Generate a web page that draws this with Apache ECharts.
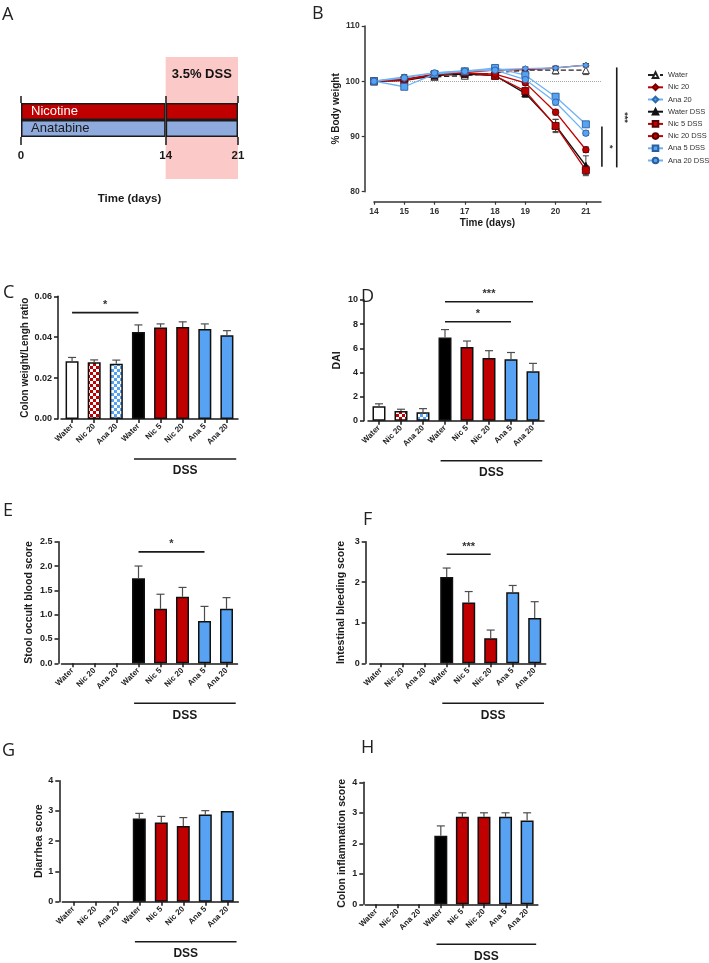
<!DOCTYPE html>
<html><head><meta charset="utf-8">
<script src="https://cdn.jsdelivr.net/npm/echarts@6/dist/echarts.min.js"></script>
<style>html,body{margin:0;padding:0;background:#fff}#c{width:709px;height:963px}</style>
</head><body><div id="c"></div>
<script>
// ---------------- DATA ----------------
// Panel A: timeline
const timelineGroups = ['Anatabine', 'Nicotine'];
const pretreatDays = [14, 14];
const dssDays = [7, 7];
const dssPeriod = [14, 21];
const dssPeriodLabel = '3.5% DSS';
const timelineTicks = [0, 14, 21];

// Panel B: % body weight
const weightDays = [14, 15, 16, 17, 18, 19, 20, 21];
const weightNames = ['Water', 'Nic 20', 'Ana 20', 'Water DSS', 'Nic 5 DSS', 'Nic 20 DSS', 'Ana 5 DSS', 'Ana 20 DSS'];
const weightWater     = [100, 100.5, 100.8, 101.0, 101.5, 102.0, 102.0, 102.0];
const weightNic20     = [100, 100.4, 101.2, 101.6, 102.0, 102.1, 102.4, 102.9];
const weightAna20     = [100, 100.8, 101.5, 101.9, 102.1, 102.3, 102.4, 102.9];
const weightWaterDss  = [100, 100.1, 101.0, 101.3, 101.0, 97.8, 92.0, 84.7];
const weightNic5Dss   = [100, 100.2, 101.2, 101.5, 101.0, 98.2, 91.9, 83.9];
const weightNic20Dss  = [100, 100.3, 101.3, 101.5, 101.3, 99.7, 94.4, 87.6];
const weightAna5Dss   = [100, 99.0, 101.3, 101.8, 102.4, 101.1, 97.2, 92.2];
const weightAna20Dss  = [100, 100.6, 101.5, 101.8, 102.0, 100.3, 96.2, 90.6];
const weightWaterErr    = [0, 0.5, 0.4, 0.4, 0.4, 0.4, 0.7, 0.8];
const weightNic20Err    = [0, 0.4, 0.3, 0.3, 0.3, 0.3, 0.3, 0.3];
const weightAna20Err    = [0, 0.4, 0.3, 0.3, 0.3, 0.3, 0.3, 0.3];
const weightWaterDssErr = [0, 0.8, 0.4, 0.3, 0.4, 0.7, 1.1, 1.8];
const weightNic5DssErr  = [0, 0.3, 0.3, 0.3, 0.3, 0.6, 1.2, 0.8];
const weightNic20DssErr = [0, 0.3, 0.3, 0.3, 0.3, 0.4, 0.5, 0.5];
const weightAna5DssErr  = [0, 0.3, 0.3, 0.3, 0.4, 0.4, 0.5, 0.4];
const weightAna20DssErr = [0, 0.3, 0.3, 0.3, 0.3, 0.4, 0.5, 0.4];
const sigWeight = [
  {x: 22.02, from: 84.4, to: 102.5, text: '***'},
  {x: 21.53, from: 84.5, to: 91.8, text: '*'}
];

// Bar panels C-H
const barCats = ['Water', 'Nic 20', 'Ana 20', 'Water', 'Nic 5', 'Nic 20', 'Ana 5', 'Ana 20'];
const dssGroup = [3, 7];
const dssGroupLabel = 'DSS';

const colonRatio    = [0.0283, 0.0277, 0.0270, 0.0425, 0.0448, 0.0450, 0.0440, 0.0410];
const colonRatioErr = [0.0018, 0.0012, 0.0018, 0.0035, 0.0017, 0.0025, 0.0025, 0.0022];
const sigColon = [{from: 0, to: 3, y: 0.052, text: '*'}];

const dai    = [1.2, 0.8, 0.7, 6.9, 6.1, 5.2, 5.1, 4.1];
const daiErr = [0.2, 0.15, 0.3, 0.65, 0.5, 0.6, 0.55, 0.65];
const sigDai = [{from: 3, to: 7, y: 9.86, text: '***'}, {from: 3, to: 6, y: 8.2, text: '*'}];

const occult    = [0, 0, 0, 1.75, 1.12, 1.37, 0.87, 1.12];
const occultErr = [0, 0, 0, 0.25, 0.30, 0.19, 0.30, 0.23];
const sigOccult = [{from: 3, to: 6, y: 2.29, text: '*'}];

const bleeding    = [0, 0, 0, 2.13, 1.50, 0.62, 1.75, 1.12];
const bleedingErr = [0, 0, 0, 0.22, 0.27, 0.20, 0.17, 0.40];
const sigBleeding = [{from: 3, to: 5, y: 2.69, text: '***'}];

const diarrhea    = [0, 0, 0, 2.75, 2.62, 2.50, 2.88, 3.00];
const diarrheaErr = [0, 0, 0, 0.17, 0.20, 0.28, 0.13, 0];

const inflam    = [0, 0, 0, 2.25, 2.87, 2.87, 2.87, 2.75];
const inflamErr = [0, 0, 0, 0.32, 0.13, 0.13, 0.13, 0.25];

// ---------------- STYLE / LAYOUT ----------------
const F = '"Liberation Sans", Arial, sans-serif';
const RED = '#c00000', BLUE = '#57a2f2', LBLUE = '#6db2f5', INK = '#1a1a1a';

function checker(c) {
  const cv = document.createElement('canvas');
  cv.width = 6; cv.height = 6;
  const ctx = cv.getContext('2d');
  ctx.fillStyle = '#fff'; ctx.fillRect(0, 0, 6, 6);
  ctx.fillStyle = c; ctx.fillRect(0, 0, 3, 3); ctx.fillRect(3, 3, 3, 3);
  return cv;
}
const barFills = ['#ffffff', {image: checker(RED), repeat: 'repeat'}, {image: checker(BLUE), repeat: 'repeat'},
  '#000000', RED, RED, BLUE, BLUE];

function errBarRender(params, api) {
  const x = api.value(0), v = api.value(1), e = api.value(2);
  if (!(e > 0)) return null;
  const b = api.coord([x, v]), t = api.coord([x, v + e]);
  const s = {stroke: '#4d4d4d', lineWidth: 1.2};
  return {type: 'group', children: [
    {type: 'line', shape: {x1: b[0], y1: b[1], x2: t[0], y2: t[1]}, style: s},
    {type: 'line', shape: {x1: t[0] - 4, y1: t[1], x2: t[0] + 4, y2: t[1]}, style: s}
  ]};
}
function symErrRender(params, api) {
  const x = api.value(0), v = api.value(1), e = api.value(2);
  if (!(e > 0)) return null;
  const b = api.coord([x, v - e]), t = api.coord([x, v + e]);
  const s = {stroke: '#444', lineWidth: 1};
  return {type: 'group', children: [
    {type: 'line', shape: {x1: b[0], y1: b[1], x2: t[0], y2: t[1]}, style: s},
    {type: 'line', shape: {x1: t[0] - 3, y1: t[1], x2: t[0] + 3, y2: t[1]}, style: s},
    {type: 'line', shape: {x1: b[0] - 3, y1: b[1], x2: b[0] + 3, y2: b[1]}, style: s}
  ]};
}
function sigRenderFactory(list) {
  return function (params, api) {
    const s = list[params.dataIndex];
    const a = api.coord([s.from, s.y]), b = api.coord([s.to, s.y]);
    return {type: 'group', children: [
      {type: 'line', shape: {x1: a[0], y1: a[1], x2: b[0], y2: b[1]}, style: {stroke: INK, lineWidth: 1.6}},
      {type: 'text', x: (a[0] + b[0]) / 2, y: a[1] - 2,
        style: {text: s.text, fill: '#333', font: 'bold 11px ' + F, align: 'center', verticalAlign: 'bottom'}}
    ]};
  };
}
function vSigRender(params, api) {
  const s = sigWeight[params.dataIndex];
  const a = api.coord([s.x, s.to]), b = api.coord([s.x, s.from]);
  return {type: 'group', children: [
    {type: 'line', shape: {x1: a[0], y1: a[1], x2: b[0], y2: b[1]}, style: {stroke: INK, lineWidth: 1.6}},
    {type: 'text', x: a[0] + 8, y: (a[1] + b[1]) / 2, rotation: -Math.PI / 2,
      style: {text: s.text, fill: '#333', font: 'bold 9px ' + F, align: 'center', verticalAlign: 'middle'}}
  ]};
}
function dssRender(params, api) {
  const p3 = api.coord([api.value(0), 0]), p7 = api.coord([api.value(1), 0]);
  const bw = api.size([1, 0])[0];
  const x1 = p3[0] - 0.2 * bw, x2 = p7[0] + 0.42 * bw, y = p3[1] + 40;
  return {type: 'group', children: [
    {type: 'line', shape: {x1: x1, y1: y, x2: x2, y2: y}, style: {stroke: INK, lineWidth: 1.6}},
    {type: 'text', x: (x1 + x2) / 2, y: y + 12,
      style: {text: dssGroupLabel, fill: INK, font: 'bold 12px ' + F, align: 'center', verticalAlign: 'middle'}}
  ]};
}

const letterStyle = {fontSize: 18, fontWeight: 'normal', color: '#222', fontFamily: '"Open Sans", sans-serif'};
const option = {
  animation: false,
  backgroundColor: '#fff',
  title: [
    {text: 'A', left: 2, top: 6}, {text: 'B', left: 312, top: 5},
    {text: 'C', left: 3, top: 284}, {text: 'D', left: 361, top: 288},
    {text: 'E', left: 3, top: 502}, {text: 'F', left: 363, top: 511},
    {text: 'G', left: 2, top: 742}, {text: 'H', left: 361, top: 739}
  ].map(t => Object.assign(t, {textStyle: letterStyle, padding: 0})),
  legend: {
    orient: 'vertical', left: 647, top: 69, padding: 0, itemWidth: 15, itemHeight: 7, itemGap: 0, itemTextGap: 3,
    data: weightNames,
    textStyle: {fontSize: 7.5, color: '#333', fontFamily: F, lineHeight: 12.2}
  },
  grid: [
    {left: 21, top: 57, width: 217, height: 122},
    {left: 21, top: 103, width: 217, height: 34},
    {left: 374, top: 26, width: 227, height: 165.7}
  ],
  xAxis: [
    {gridIndex: 0, type: 'value', min: 0, max: 21, show: false},
    {gridIndex: 1, type: 'value', min: 0, max: 21, interval: 7,
      axisLine: {show: false}, splitLine: {show: false},
      axisTick: {show: true, customValues: timelineTicks, length: 8, lineStyle: {color: INK, width: 1.5}},
      axisLabel: {customValues: timelineTicks, margin: 13, fontSize: 11.5, fontWeight: 'bold', color: INK, fontFamily: F},
      name: 'Time (days)', nameLocation: 'middle', nameGap: 56,
      nameTextStyle: {fontSize: 11.5, fontWeight: 'bold', color: INK, fontFamily: F}},
    {gridIndex: 1, type: 'value', min: 0, max: 21, interval: 7, position: 'top',
      axisLine: {show: false}, splitLine: {show: false},
      axisTick: {show: true, customValues: timelineTicks, length: 7, lineStyle: {color: INK, width: 1.5}},
      axisLabel: {show: false}},
    {gridIndex: 2, type: 'value', min: 14, max: 21.5, offset: 10,
      axisLine: {show: true, lineStyle: {color: '#333', width: 1.5}}, splitLine: {show: false},
      axisTick: {show: true, customValues: weightDays, length: 3, lineStyle: {color: '#333', width: 1.2}},
      axisLabel: {customValues: weightDays, margin: 5, fontSize: 8.5, fontWeight: 'bold', color: '#333', fontFamily: F},
      name: 'Time (days)', nameLocation: 'middle', nameGap: 17,
      nameTextStyle: {fontSize: 10, fontWeight: 'bold', color: INK, fontFamily: F}}
  ],
  yAxis: [
    {gridIndex: 0, type: 'value', min: 0, max: 1, show: false},
    {gridIndex: 1, type: 'category', data: timelineGroups, show: false},
    {gridIndex: 2, type: 'value', min: 80, max: 110, interval: 10, offset: 9.3,
      axisLine: {show: true, lineStyle: {color: '#333', width: 1.5}}, splitLine: {show: false},
      axisTick: {show: true, length: 3, lineStyle: {color: '#333', width: 1.2}},
      axisLabel: {margin: 5, fontSize: 8.5, fontWeight: 'bold', color: '#333', fontFamily: F},
      name: '% Body weight', nameLocation: 'middle', nameGap: 18,
      nameTextStyle: {fontSize: 10, fontWeight: 'bold', color: INK, fontFamily: F}}
  ],
  series: []
};

// ---- Panel A series
const tlColors = ['#8faadc', RED];
const tlLabelColors = ['#1a1a1a', '#ffffff'];
option.series.push({
  type: 'custom', xAxisIndex: 0, yAxisIndex: 0, z: 0, data: [dssPeriod],
  renderItem: function (params, api) {
    const a = api.coord([api.value(0), 1]), b = api.coord([api.value(1), 0]);
    return {type: 'group', children: [
      {type: 'rect', shape: {x: a[0], y: a[1], width: b[0] - a[0], height: b[1] - a[1]}, style: {fill: '#fcc9c9'}},
      {type: 'text', x: (a[0] + b[0]) / 2, y: a[1] + 17,
        style: {text: dssPeriodLabel, fill: '#111', font: 'bold 13px ' + F, align: 'center', verticalAlign: 'middle'}}
    ]};
  }
});
option.series.push({
  type: 'bar', xAxisIndex: 1, yAxisIndex: 1, stack: 'tl', barCategoryGap: '0%', z: 3,
  data: pretreatDays.map((v, i) => ({value: v, itemStyle: {color: tlColors[i]},
    label: {color: tlLabelColors[i]}})),
  itemStyle: {borderColor: INK, borderWidth: 1.5},
  label: {show: true, position: 'insideLeft', distance: 10, formatter: '{b}', fontSize: 13, fontFamily: F}
});
option.series.push({
  type: 'bar', xAxisIndex: 1, yAxisIndex: 1, stack: 'tl', barCategoryGap: '0%', z: 3,
  data: dssDays.map((v, i) => ({value: v, itemStyle: {color: tlColors[i]}})),
  itemStyle: {borderColor: INK, borderWidth: 1.5}
});

// ---- Panel B series
const weightDefs = [
  {vals: weightWater, err: weightWaterErr, line: '#222', fill: '#fff', border: '#222', sym: 'triangle', size: 7, type: 'dashed'},
  {vals: weightNic20, err: weightNic20Err, line: RED, fill: RED, border: '#7a0000', sym: 'diamond', size: 6, type: 'solid'},
  {vals: weightAna20, err: weightAna20Err, line: LBLUE, fill: BLUE, border: '#2a6bb0', sym: 'diamond', size: 6, type: 'solid'},
  {vals: weightWaterDss, err: weightWaterDssErr, line: '#111', fill: '#111', border: '#111', sym: 'triangle', size: 7, type: 'solid'},
  {vals: weightNic5Dss, err: weightNic5DssErr, line: RED, fill: RED, border: '#5a0000', sym: 'rect', size: 7, type: 'solid'},
  {vals: weightNic20Dss, err: weightNic20DssErr, line: RED, fill: RED, border: '#5a0000', sym: 'circle', size: 6.5, type: 'solid'},
  {vals: weightAna5Dss, err: weightAna5DssErr, line: LBLUE, fill: BLUE, border: '#2a5f9e', sym: 'rect', size: 7, type: 'solid'},
  {vals: weightAna20Dss, err: weightAna20DssErr, line: LBLUE, fill: BLUE, border: '#2a5f9e', sym: 'circle', size: 6.5, type: 'solid'}
];
const errPoints = [];
weightDefs.forEach(d => weightDays.forEach((day, i) => errPoints.push([day, d.vals[i], d.err[i]])));
option.series.push({
  type: 'custom', xAxisIndex: 3, yAxisIndex: 2, z: 2, data: errPoints, renderItem: symErrRender
});
weightDefs.forEach((d, k) => {
  const s = {
    type: 'line', name: weightNames[k], xAxisIndex: 3, yAxisIndex: 2, z: 3 + k,
    data: weightDays.map((day, i) => [day, d.vals[i]]),
    symbol: d.sym, symbolSize: d.size, showAllSymbol: true,
    lineStyle: {color: d.line, width: 1.3, type: d.type},
    itemStyle: {color: d.fill, borderColor: d.border, borderWidth: 0.9}
  };
  if (k === 0) {
    s.markLine = {silent: true, symbol: 'none', label: {show: false},
      lineStyle: {type: 'dotted', color: '#aaa', width: 1}, data: [{yAxis: 100}]};
  }
  option.series.push(s);
});
option.series.push({
  type: 'custom', xAxisIndex: 3, yAxisIndex: 2, z: 5, data: sigWeight.map(s => [s.x, s.from]), renderItem: vSigRender
});

// ---- Bar panels
const panels = [
  {grid: {left: 61, top: 296.3, width: 177, height: 122.7}, vals: colonRatio, errs: colonRatioErr,
    max: 0.06, step: 0.02, dec: 2, name: 'Colon weight/Lengh ratio', gap: 28, off: 3, sig: sigColon, nameSize: 10},
  {grid: {left: 368, top: 300, width: 176, height: 120.7}, vals: dai, errs: daiErr,
    max: 10, step: 2, dec: 0, name: 'DAI', gap: 21, off: 4, sig: sigDai, nameSize: 10.5},
  {grid: {left: 61.5, top: 541.7, width: 176, height: 121.6}, vals: occult, errs: occultErr,
    max: 2.5, step: 0.5, dec: 1, name: 'Stool occult blood score', gap: 24, off: 3, sig: sigOccult, nameSize: 10.5},
  {grid: {left: 369.7, top: 541.7, width: 176, height: 121.6}, vals: bleeding, errs: bleedingErr,
    max: 3, step: 1, dec: 0, name: 'Intestinal bleeding score', gap: 19, off: 4, sig: sigBleeding, nameSize: 10.5},
  {grid: {left: 62.3, top: 780.7, width: 176, height: 121}, vals: diarrhea, errs: diarrheaErr,
    max: 4, step: 1, dec: 0, name: 'Diarrhea score', gap: 15, off: 3, sig: [], nameSize: 10.5},
  {grid: {left: 365.3, top: 782.3, width: 172.6, height: 122}, vals: inflam, errs: inflamErr,
    max: 4, step: 1, dec: 0, name: 'Colon inflammation score', gap: 15.5, off: 2, sig: [], nameSize: 10.5}
];
panels.forEach((p, k) => {
  const gi = option.grid.length;
  option.grid.push(p.grid);
  const xi = option.xAxis.length, yi = option.yAxis.length;
  option.xAxis.push({
    gridIndex: gi, type: 'category', data: barCats, boundaryGap: true,
    axisLine: {show: true, lineStyle: {color: INK, width: 1.5}},
    axisTick: {show: true, alignWithLabel: true, length: 4, lineStyle: {color: INK, width: 1.5}},
    axisLabel: {interval: 0, rotate: 45, margin: 6, fontSize: 8, fontWeight: 'bold', color: '#222', fontFamily: F},
    splitLine: {show: false}
  });
  option.yAxis.push({
    gridIndex: gi, type: 'value', min: 0, max: p.max, interval: p.step, offset: p.off,
    axisLine: {show: true, lineStyle: {color: INK, width: 1.5}},
    axisTick: {show: true, length: 4, lineStyle: {color: INK, width: 1.5}},
    axisLabel: {margin: 6, fontSize: 9, fontWeight: 'bold', color: '#222', fontFamily: F,
      formatter: v => v.toFixed(p.dec)},
    splitLine: {show: false},
    name: p.name, nameLocation: 'middle', nameGap: p.gap,
    nameTextStyle: {fontSize: p.nameSize, fontWeight: 'bold', color: INK, fontFamily: F}
  });
  option.series.push({
    type: 'bar', xAxisIndex: xi, yAxisIndex: yi, barWidth: 13, z: 2,
    data: p.vals.map((v, i) => ({value: v, itemStyle: {color: barFills[i], borderWidth: v > 0 ? 1.5 : 0}})),
    itemStyle: {borderColor: '#111', borderWidth: 1.5}
  });
  option.series.push({
    type: 'custom', xAxisIndex: xi, yAxisIndex: yi, z: 3,
    data: p.vals.map((v, i) => [i, v, p.errs[i]]), renderItem: errBarRender
  });
  if (p.sig.length) {
    option.series.push({
      type: 'custom', xAxisIndex: xi, yAxisIndex: yi, z: 4,
      data: p.sig.map(s => [s.from, s.y]), renderItem: sigRenderFactory(p.sig)
    });
  }
  option.series.push({
    type: 'custom', xAxisIndex: xi, yAxisIndex: yi, z: 4,
    data: [dssGroup], renderItem: dssRender
  });
});

const chart = echarts.init(document.getElementById('c'), null, {renderer: 'canvas'});
chart.setOption(option);
</script>
</body></html>
